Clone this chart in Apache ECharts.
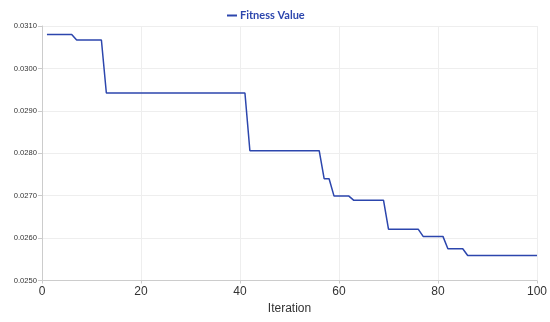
<!DOCTYPE html>
<html><head><meta charset="utf-8">
<script src="https://cdn.jsdelivr.net/npm/echarts@6/dist/echarts.min.js"></script>
<style>html,body{margin:0;padding:0;background:#fff}#c{width:550px;height:322px}</style>
</head><body><div id="c"></div>
<script>
const seriesName = 'Fitness Value';
const xTicks = [0, 20, 40, 60, 80, 100];
const yTicks = [0.025, 0.026, 0.027, 0.028, 0.029, 0.030, 0.031];
const iterations = [];
for (let i = 1; i <= 100; i++) iterations.push(i);
const fitness = [
  0.03080,0.03080,0.03080,0.03080,0.03080,0.03080,
  0.03067,0.03067,0.03067,0.03067,0.03067,0.03067,
  0.02942,0.02942,0.02942,0.02942,0.02942,0.02942,0.02942,0.02942,0.02942,0.02942,
  0.02942,0.02942,0.02942,0.02942,0.02942,0.02942,0.02942,0.02942,0.02942,0.02942,
  0.02942,0.02942,0.02942,0.02942,0.02942,0.02942,0.02942,0.02942,0.02942,
  0.02806,0.02806,0.02806,0.02806,0.02806,0.02806,0.02806,0.02806,0.02806,0.02806,
  0.02806,0.02806,0.02806,0.02806,0.02806,
  0.02740,0.02740,
  0.02699,0.02699,0.02699,0.02699,
  0.02689,0.02689,0.02689,0.02689,0.02689,0.02689,0.02689,
  0.02621,0.02621,0.02621,0.02621,0.02621,0.02621,0.02621,
  0.02604,0.02604,0.02604,0.02604,0.02604,
  0.02575,0.02575,0.02575,0.02575,
  0.02559,0.02559,0.02559,0.02559,0.02559,0.02559,0.02559,0.02559,0.02559,0.02559,
  0.02559,0.02559,0.02559,0.02559,0.02559
];
const lineColor = '#2c46ad';
const chart = echarts.init(document.getElementById('c'));
chart.setOption({
  animation: false,
  legend: {
    data: [{ name: seriesName, icon: 'rect' }], top: 5, left: 222,
    itemWidth: 10, itemHeight: 2, itemGap: 10,
    textStyle: { color: lineColor, fontWeight: 'bold', fontSize: 11, fontFamily: 'Lato', padding: [0, 0, 0, -2] }
  },
  grid: { left: 42, right: 11, top: 26, bottom: 41.5 },
  xAxis: {
    type: 'value', min: xTicks[0], max: xTicks[xTicks.length-1], interval: 20,
    name: 'Iteration', nameLocation: 'middle', nameGap: 22,
    nameTextStyle: { fontSize: 12, color: '#333', fontFamily: 'Liberation Sans' },
    axisLine: { lineStyle: { color: '#ccc' } },
    axisTick: { show: true, length: 3, lineStyle: { color: '#ccc' } },
    axisLabel: { fontSize: 12, color: '#333', margin: 5, fontFamily: 'Liberation Sans' },
    splitLine: { show: true, lineStyle: { color: '#eee' } }
  },
  yAxis: {
    type: 'value', min: yTicks[0], max: yTicks[yTicks.length-1], interval: 0.001,
    axisLine: { show: true, lineStyle: { color: '#ccc' } },
    axisTick: { show: true, length: 4, lineStyle: { color: '#ccc' } },
    axisLabel: { fontSize: 7.6, color: '#333', margin: 5, fontFamily: 'Liberation Sans', formatter: v => v.toFixed(4) },
    splitLine: { show: true, lineStyle: { color: '#eee' } }
  },
  series: [{
    name: seriesName, type: 'line', showSymbol: false, symbol: 'none',
    data: iterations.map((x, i) => [x, fitness[i]]),
    lineStyle: { color: lineColor, width: 1.5 },
    itemStyle: { color: lineColor }
  }]
});
</script></body></html>
